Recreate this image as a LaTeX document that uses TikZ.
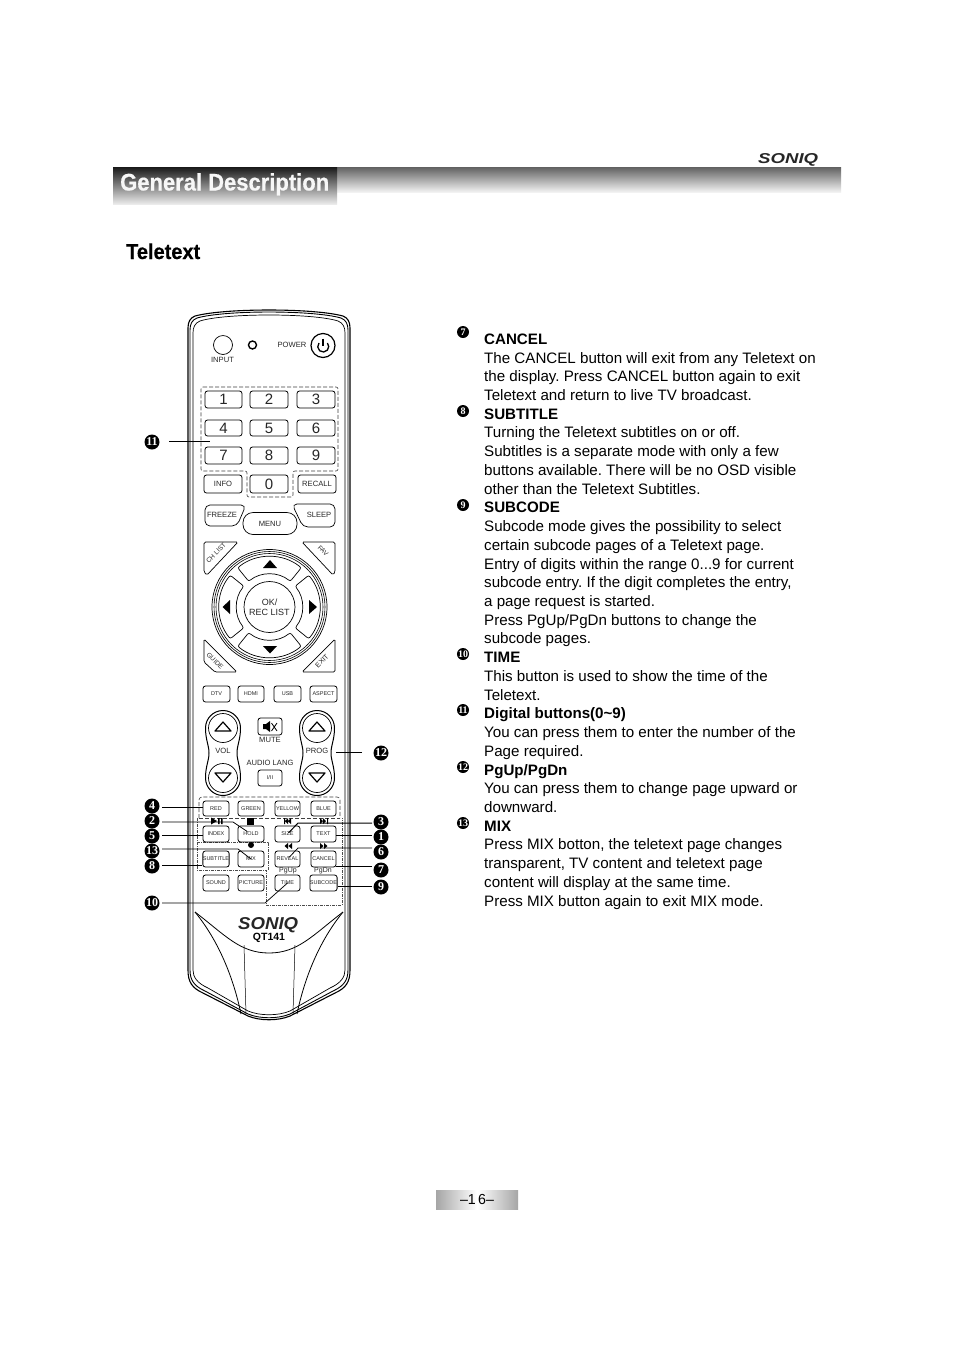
\documentclass[tikz,border=0pt]{standalone}
\usepackage{fontspec}
\setmainfont{Liberation Sans}
\newfontfamily\bdgfont{Liberation Serif}
\newfontfamily\heavyfont[BoldFeatures={FakeBold=0.5}]{Liberation Sans}
\usetikzlibrary{calc}
\newcommand\fz[1]{\fontsize{#1}{#1}\selectfont}
\tikzset{
 btn/.style={draw,rounded corners=2.5pt,line width=.8pt,inner sep=0pt,font=\fz{5.5},text=black!85},
 lbl/.style={inner sep=0pt,font=\fz{7.6},text=black!85},
 badge/.style={circle,fill=black,text=white,inner sep=0pt,minimum size=15pt,font=\bdgfont\bfseries\fz{12}},
 sbadge/.style={circle,fill=black,text=white,inner sep=0pt,minimum size=12pt,font=\bdgfont\bfseries\fz{10}},
 leader/.style={line width=.75pt},
 dashbox/.style={line width=.6pt,dash pattern=on 4pt off 2pt,black!75},
 dotbox/.style={line width=.6pt,dash pattern=on 3pt off 1pt on 1pt off 1pt,black!70}
}
\newcommand\Btn[6]{%
 \pgfmathsetmacro\bcx{(#2+#4)/2}\pgfmathsetmacro\bcy{(#3+#5)/2}%
 \pgfmathsetmacro\bwd{#4-#2}\pgfmathsetmacro\bht{#5-#3}%
 \node[btn,minimum width=\bwd pt,minimum height=\bht pt] (#1) at (\bcx,\bcy) {#6};}
\newcommand\Peanut[1]{%
 \draw[line width=1pt] (#1-14,753) .. controls (#1-14,745) and (#1-17.5,740) .. (#1-17.5,728)
   arc[start angle=180,end angle=360,radius=17.5]
   .. controls (#1+17.5,740) and (#1+14,745) .. (#1+14,753)
   .. controls (#1+14,761) and (#1+17.5,766) .. (#1+17.5,778)
   arc[start angle=0,end angle=180,radius=17.5]
   .. controls (#1-17.5,766) and (#1-14,761) .. (#1-14,753) -- cycle;
 \draw[line width=.7pt] (#1,728) circle[radius=14.5] (#1,778) circle[radius=14.5];
 \draw[line width=1.2pt,line join=round] (#1-8,731)--(#1+8,731)--(#1,722)--cycle;
 \draw[line width=1.2pt,line join=round] (#1-8,773)--(#1+8,773)--(#1,782)--cycle;
}
\newcommand\Logo[5]{\node[inner sep=0pt,anchor=base west,text=black!85] (#1) at (#2,#3) {\resizebox{#4pt}{#5pt}{\fz{10}\heavyfont\bfseries\itshape SONIQ}};}
\begin{document}
\begin{tikzpicture}[x=1pt,y=-1pt]
\useasboundingbox (0,0) rectangle (954,1350);
\fill[white] (0,0) rectangle (954,1350);
% header
\shade[top color=black!62,bottom color=black!5] (113,167) rectangle (841,192);
\shade[top color=black!90,bottom color=black!8] (113,167) rectangle (337,204);
\node[inner sep=0pt,anchor=base west,text=white!97!black] (title) at (120,190.5) {\resizebox{209pt}{\height}{\fz{24}\heavyfont\bfseries General Description}};
\Logo{logotop}{758}{163}{60}{10}
\node[inner sep=0pt,anchor=base west] (sub) at (126,259) {\resizebox{74pt}{\height}{\fz{21.5}\heavyfont\bfseries Teletext}};
% remote body
\foreach \o/\w in {0/1.1,2/.9,5/.7}{
 \draw[line width=\w pt,line join=round]
  (188+\o,970) -- (188+\o,328+\o) .. controls (188+\o,322+\o) and (190+\o,318+\o) .. (195+\o,316+\o)
  .. controls (225,308+\o) and (313,308+\o) .. (343-\o,316+\o)
  .. controls (348-\o,318+\o) and (350-\o,322+\o) .. (350-\o,328+\o) -- (350-\o,970)
  .. controls (350-\o,982-\o) and (346-\o,988-\o) .. (335-\o,993-\o)
  -- (290,1016-\o) .. controls (278,1021-\o) and (260,1021-\o) .. (248,1016-\o)
  -- (203+\o,993-\o) .. controls (192+\o,988-\o) and (188+\o,982-\o) .. (188+\o,970) ;
}
\draw[line width=.8pt] (195,912) .. controls (225,935) and (240,953) .. (269,953) .. controls (298,953) and (313,935) .. (343,912);
\draw[line width=.8pt] (195,912) .. controls (222,945) and (235,985) .. (241,1014);
\draw[line width=.8pt] (343,912) .. controls (316,945) and (303,985) .. (297,1014);
\draw[line width=.5pt] (244,945) -- (246,1014) (295,945) -- (293,1014);
\Logo{logobot}{238}{929.5}{60}{12}
\node[inner sep=0pt,font=\bfseries\fz{10.5}] (model) at (269,937.5) {QT141};
% top
\node[draw,circle,line width=.7pt,minimum size=19pt,inner sep=0pt] (input) at (223,345) {};
\node[lbl] (inputl) at (222.5,360) {INPUT};
\node[draw,circle,line width=1.4pt,minimum size=8pt,inner sep=0pt] (led) at (252.5,345) {};
\node[lbl] (powerl) at (292,345) {POWER};
\node[draw,circle,line width=1.2pt,minimum size=24pt,inner sep=0pt] (power) at (323,345.5) {};
\draw[line width=1.3pt] (319,343) arc[start angle=220,end angle=-40,radius=5.5];
\draw[line width=1.3pt] (323,338.5) -- (323,346);
% number pad
\draw[dashbox,rounded corners=2pt] (201,387) -- (338,387) -- (338,471) -- (293,471) -- (293,497) -- (247,497) -- (247,471) -- (201,471) -- cycle;
\Btn{n1}{205}{391}{242}{408}{\fz{15}1}\Btn{n2}{250}{391}{288}{408}{\fz{15}2}\Btn{n3}{297}{391}{335}{408}{\fz{15}3}
\Btn{n4}{205}{420}{242}{436}{\fz{15}4}\Btn{n5}{250}{420}{288}{436}{\fz{15}5}\Btn{n6}{297}{420}{335}{436}{\fz{15}6}
\Btn{n7}{205}{447}{242}{464}{\fz{15}7}\Btn{n8}{250}{447}{288}{464}{\fz{15}8}\Btn{n9}{297}{447}{335}{464}{\fz{15}9}
\Btn{info}{204}{475}{242}{493}{\fz{7.6}INFO}\Btn{n0}{250}{475}{288}{493}{\fz{15}0}\Btn{recall}{298}{475}{336}{493}{\fz{7.6}RECALL}
% freeze etc
\draw[line width=.7pt,rounded corners=5pt] (205,526) -- (205,505) -- (246,505) -- (237,526) -- cycle;
\draw[line width=.7pt,rounded corners=5pt] (335,527) -- (335,504) -- (292,504) -- (303,527) -- cycle;
\node[lbl] (freeze) at (222,515) {FREEZE};
\node[lbl] (sleep) at (319,515) {SLEEP};
\node[draw,fill=white,rounded corners=10pt,line width=.7pt,minimum width=54pt,minimum height=22pt,inner sep=0pt,font=\fz{7.6},text=black!85] (menu) at (270,523.5) {MENU};
% corners
\draw[line width=.7pt,rounded corners=1.5pt] (204,542) -- (238,542) -- (207,575) -- (204,572) -- cycle;
\draw[line width=.7pt,rounded corners=1.5pt] (335,542) -- (302,542) -- (333,575) -- (335,572) -- cycle;
\draw[line width=.7pt,rounded corners=1.5pt] (204,639) -- (237,672) -- (215,672) -- (204,662) -- cycle;
\draw[line width=.7pt,rounded corners=1.5pt] (335,639) -- (302,672) -- (335,672) -- cycle;
\node[lbl,font=\fz{6.5},rotate=45] (chlist) at (216,553) {CH LIST};
\node[lbl,font=\fz{6.5},rotate=-45] (fav) at (323,551) {FAV};
\node[lbl,font=\fz{6.5},rotate=-45] (guide) at (215,661) {GUIDE};
\node[lbl,font=\fz{7},rotate=45] (exit) at (322,661) {EXIT};
% nav
\coordinate (nc) at (269.5,607);
\foreach \r/\w in {57.5/.7,55.5/.6,53.5/.6}{\draw[line width=\w pt] (nc) circle[radius=\r];}
\foreach \a in {0,90,180,270}{
 \draw[line width=.7pt,rounded corners=2pt] ($(nc)+(\a-39:50.5)$) arc[start angle=\a-39,end angle=\a+39,radius=50.5] -- ($(nc)+(\a+39:33)$) arc[start angle=\a+39,end angle=\a-39,radius=33] -- cycle;
}
\node[draw,circle,line width=.7pt,minimum size=51pt,inner sep=0pt,align=center,font=\fz{9},text=black!85] (ok) at (nc) {OK/\\[1pt]REC LIST};
\fill (263,568) -- (277,568) -- (270,560) -- cycle;
\fill (263,646) -- (277,646) -- (270,653.5) -- cycle;
\fill (230,600) -- (230,614) -- (222.5,607) -- cycle;
\fill (309,600) -- (309,614) -- (317,607) -- cycle;
% source row
\Btn{dtv}{203}{686}{230}{702}{DTV}\Btn{hdmi}{238}{686}{264}{702}{HDMI}\Btn{usb}{274}{686}{301}{702}{USB}\Btn{aspect}{310}{686}{337}{702}{ASPECT}
% vol prog
\Peanut{223}
\Peanut{317}
\node[lbl,font=\fz{7.6}] (vol) at (223,751) {VOL};
\node[lbl,font=\fz{7.6}] (prog) at (317,751) {PROG};
\Btn{mute}{258}{718}{282}{735}{}
\fill (263,724) -- (266,724) -- (270,721) -- (270,732) -- (266,729) -- (263,729) -- cycle;
\draw[line width=.8pt] (271.5,723) -- (277,731) (277,723) -- (271.5,731);
\node[lbl] (mutel) at (270,739.5) {MUTE};
\node[lbl] (audio) at (270,763) {AUDIO LANG};
\Btn{lang}{258}{770}{282}{786}{I/II}
% colour rows
\draw[dashbox,rounded corners=3pt] (199,818) -- (199,797) -- (340,797) -- (340,818);
\draw[dashbox] (199,818) -- (340,818);
\draw[dotbox] (197,818) -- (197,870) -- (266,870) -- (266,905) -- (342,905) -- (342,818);
\draw[dotbox] (197,842) -- (268,842) -- (268,870);
\Btn{red}{203}{801}{229}{816}{RED}\Btn{green}{238}{801}{264}{816}{GREEN}\Btn{yellow}{275}{801}{300}{816}{YELLOW}\Btn{blue}{311}{801}{336}{816}{BLUE}
\Btn{index}{203}{826}{229}{842}{INDEX}\Btn{hold}{238}{826}{264}{842}{HOLD}\Btn{size}{275}{826}{300}{842}{SIZE}\Btn{textb}{311}{826}{336}{842}{TEXT}
\Btn{subtitle}{203}{851}{229}{867}{SUBTITLE}\Btn{mix}{238}{851}{264}{867}{MIX}\Btn{reveal}{275}{851}{300}{867}{REVEAL}\Btn{cancel}{311}{851}{336}{867}{CANCEL}
\Btn{sound}{203}{875}{229}{891}{SOUND}\Btn{picture}{238}{875}{264}{891}{PICTURE}\Btn{time}{275}{875}{300}{891}{TIME}\Btn{subcode}{311}{875}{336}{891}{SUBCODE}
% symbols
\fill (211,817.5) -- (217,821) -- (211,824.5) -- cycle;
\fill (218,818) rectangle (219.5,824) (221,818) rectangle (222.5,824);
\fill (247,817.5) rectangle (254,824.5);
\fill (251,845) circle[radius=3];
\fill (284,818) rectangle (285,824) (291,818) -- (291,824) -- (288,821) -- cycle (288,818) -- (288,824) -- (285,821) -- cycle;
\fill (328,818) rectangle (327,824) (320,818) -- (320,824) -- (323,821) -- cycle (323,818) -- (323,824) -- (326,821) -- cycle;
\fill (292,843) -- (292,849) -- (288.5,846) -- cycle (288,843) -- (288,849) -- (284.5,846) -- cycle;
\fill (320,843) -- (320,849) -- (323.5,846) -- cycle (324,843) -- (324,849) -- (327.5,846) -- cycle;
\node[lbl,font=\fz{7}] (pgup) at (288,871) {PgUp};
\node[lbl,font=\fz{7}] (pgdn) at (323,871) {PgDn};
% badges
\node[badge] (b11) at (152,442) {11};
\node[badge] (b12) at (381,753) {12};
\node[badge] (b4) at (152,806) {4};
\node[badge] (b2) at (152,821) {2};
\node[badge] (b5) at (152,836) {5};
\node[badge] (b13) at (152,851) {13};
\node[badge] (b8) at (152,866) {8};
\node[badge] (b10) at (152,903) {10};
\node[badge] (b3) at (381,822) {3};
\node[badge] (b1) at (381,837) {1};
\node[badge] (b6) at (381,852) {6};
\node[badge] (b7) at (381,870) {7};
\node[badge] (b9) at (381,887) {9};
% leaders
\coordinate (t11) at (210,441);\coordinate (s11) at (169,441);
\coordinate (t12) at (336,752);\coordinate (s12) at (362,752);
\draw[leader] (s11) -- (t11);
\draw[leader] (s12) -- (t12);
\coordinate (k4) at (162,807);\coordinate (k5) at (162,835);\coordinate (k8) at (162,865);
\draw[leader] (k4) -- (red.west |- k4);
\draw[leader] (k5) -- (index.west |- k5);
\draw[leader] (k8) -- (subtitle.west |- k8);
\coordinate (k2) at (162,822);\coordinate (m2) at (233,822);
\draw[leader] (k2) -- (m2) -- ($(m2)!0.8!(hold.center)$);
\coordinate (k13) at (162,849);\coordinate (m13) at (238,849);
\draw[leader] (k13) -- (m13) -- (mix.center);
\coordinate (k10) at (162,903);\coordinate (m10) at (265,903);
\draw[leader] (k10) -- (m10) -- (time.center);
\coordinate (k3) at (372,823);\coordinate (m3) at (298,823);
\draw[leader,line width=1pt] (k3) -- (m3) -- ($(m3)!0.9!(size.center)$);
\coordinate (k1) at (372,835);
\draw[leader] (k1) -- (textb.east |- k1);
\coordinate (k6) at (372,848);\coordinate (m6) at (298,848);
\draw[leader] (k6) -- (m6) -- ($(m6)!0.85!(reveal.center)$);
\coordinate (k7) at (372,866);
\draw[leader,line width=1pt] (k7) -- (cancel.east |- k7);
\coordinate (k9) at (372,886);
\draw[leader] (k9) -- (subcode.east |- k9);
% right column
\node[sbadge] (s7) at (463,332) {7};
\node[sbadge] (s8) at (463,411) {8};
\node[sbadge] (s9) at (463,505) {9};
\node[sbadge] (s10) at (463,654) {10};
\node[sbadge] (s11b) at (463,710) {11};
\node[sbadge] (s12b) at (463,767) {12};
\node[sbadge] (s13) at (463,823) {13};
\node[inner sep=0pt,anchor=north west,align=left,font=\frenchspacing\fontsize{15.14}{18.73}\selectfont] (desc) at (484,333.5) {%
\textbf{CANCEL}\\
The CANCEL button will exit from any Teletext on\\
the display. Press CANCEL button again to exit\\
Teletext and return to live TV broadcast.\\
\textbf{SUBTITLE}\\
Turning the Teletext subtitles on or off.\\
Subtitles is a separate mode with only a few\\
buttons available. There will be no OSD visible\\
other than the Teletext Subtitles.\\
\textbf{SUBCODE}\\
Subcode mode gives the possibility to select\\
certain subcode pages of a Teletext page.\\
Entry of digits within the range 0...9 for current\\
subcode entry. If the digit completes the entry,\\
a page request is started.\\
Press PgUp/PgDn buttons to change the\\
subcode pages.\\
\textbf{TIME}\\
This button is used to show the time of the\\
Teletext.\\
\textbf{Digital buttons(0\textasciitilde 9)}\\
You can press them to enter the number of the\\
Page required.\\
\textbf{PgUp/PgDn}\\
You can press them to change page upward or\\
downward.\\
\textbf{MIX}\\
Press MIX botton, the teletext page changes\\
transparent, TV content and teletext page\\
content will display at the same time.\\
Press MIX button again to exit MIX mode.};
% page number
\shade[left color=black!35,right color=white] (436,1190) rectangle (477,1209);
\shade[left color=white,right color=black!35] (477,1190) rectangle (518,1209);
\node[inner sep=0pt,font=\fz{14.5}] (page) at (477,1199.5) {\resizebox{34pt}{\height}{\textendash 1\,6\textendash}};
\end{tikzpicture}
\end{document}
